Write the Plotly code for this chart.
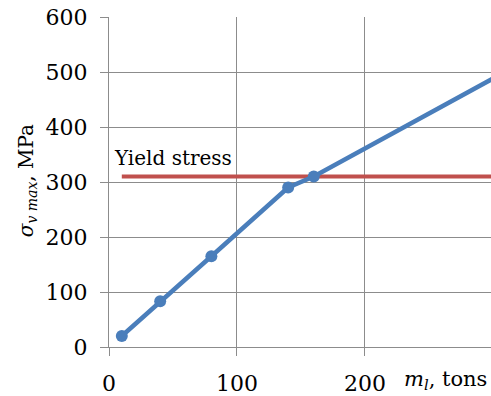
import plotly.graph_objects as go

# Load (tons) vs maximum von Mises stress (MPa)
load_tons = [10, 40, 80, 140, 160, 300]
stress_mpa = [20, 83, 165, 290, 310, 488]

# Yield stress reference line
yield_x = [10, 300]
yield_stress = [310, 310]

x_ticks = [0, 100, 200]
y_ticks = [0, 100, 200, 300, 400, 500, 600]

FONT = "DejaVu Serif"
BLUE = "#4A7EBB"
RED = "#C0504D"
GRID = "#8c8c8c"

fig = go.Figure()
fig.add_trace(go.Scatter(
    x=yield_x, y=yield_stress, mode="lines",
    line=dict(color=RED, width=4), cliponaxis=True, showlegend=False,
))
fig.add_trace(go.Scatter(
    x=load_tons, y=stress_mpa, mode="lines+markers",
    line=dict(color=BLUE, width=4.5), marker=dict(color=BLUE, size=12),
    cliponaxis=False, showlegend=False,
))

fig.add_annotation(
    x=2.2, y=344, xref="x", yref="y", text="Yield stress", showarrow=False,
    xanchor="left", yanchor="middle", font=dict(family=FONT, size=20, color="black"),
)
# Y axis title
fig.add_annotation(
    x=-0.215, y=0.505, xref="paper", yref="paper",
    text="<i>σ<sub>v max</sub></i>, MPa", showarrow=False, textangle=-90,
    xanchor="center", yanchor="middle", font=dict(family=FONT, size=20, color="black"),
)
# X axis title
fig.add_annotation(
    x=0.995, y=-0.1, xref="paper", yref="paper",
    text="<i>m<sub>l</sub></i>, tons", showarrow=False,
    xanchor="right", yanchor="middle", font=dict(family=FONT, size=21, color="black"),
)

fig.update_layout(
    template="none",
    width=491, height=396,
    margin=dict(l=109, r=0, t=17, b=49),
    plot_bgcolor="white", paper_bgcolor="white",
    font=dict(family=FONT, size=22, color="black"),
)
fig.update_xaxes(
    range=[0, 298.5], tickvals=x_ticks, showgrid=True, gridcolor=GRID, gridwidth=1.3,
    showline=True, linecolor=GRID, linewidth=1.3, ticks="outside", ticklen=8,
    tickcolor=GRID, zeroline=False, ticklabelstandoff=8,
    tickfont=dict(family=FONT, size=22, color="black"),
)
fig.update_yaxes(
    range=[0, 600], tickvals=y_ticks, showgrid=True, gridcolor=GRID, gridwidth=1.3,
    showline=True, linecolor=GRID, linewidth=1.3, ticks="outside", ticklen=8,
    tickcolor=GRID, zeroline=False, ticksuffix="\u00a0", ticklabelstandoff=8,
    tickfont=dict(family=FONT, size=22, color="black"),
)

fig.write_html("out.html")
